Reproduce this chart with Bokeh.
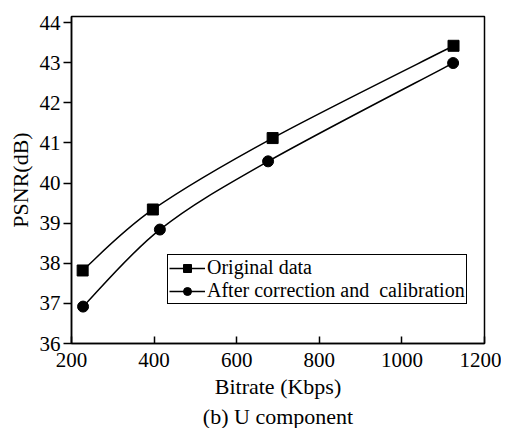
from bokeh.plotting import figure
from bokeh.models import Range1d, Legend, LegendItem, Title, ColumnDataSource
from bokeh.embed import file_html
from bokeh.resources import INLINE

# Data
orig_x = [227, 397, 687, 1125]
orig_y = [37.82, 39.34, 41.12, 43.42]
corr_x = [228, 414, 676, 1124]
corr_y = [36.92, 38.84, 40.54, 42.99]
x_ticks = [200, 400, 600, 800, 1000, 1200]
y_ticks = [36, 37, 38, 39, 40, 41, 42, 43, 44]
FONT = "Liberation Serif"


def smooth_segments(xs, ys):
    """Catmull-Rom style cubic bezier segments through the data points."""
    n = len(xs)
    d = dict(x0=[], y0=[], x1=[], y1=[], cx0=[], cy0=[], cx1=[], cy1=[])
    for i in range(n - 1):
        ip = max(i - 1, 0)
        inn = min(i + 2, n - 1)
        d["x0"].append(xs[i]); d["y0"].append(ys[i])
        d["x1"].append(xs[i + 1]); d["y1"].append(ys[i + 1])
        d["cx0"].append(xs[i] + (xs[i + 1] - xs[ip]) / 6)
        d["cy0"].append(ys[i] + (ys[i + 1] - ys[ip]) / 6)
        d["cx1"].append(xs[i + 1] - (xs[inn] - xs[i]) / 6)
        d["cy1"].append(ys[i + 1] - (ys[inn] - ys[i]) / 6)
    return ColumnDataSource(d)


p = figure(width=501, height=428,
           x_range=Range1d(200, 1200), y_range=Range1d(36, 44.15),
           output_backend="svg", toolbar_location=None,
           min_border_left=71, min_border_top=16, min_border_right=17,
           min_border_bottom=85)

p.xgrid.visible = False
p.ygrid.visible = False
p.outline_line_color = "black"
p.outline_line_width = 1.5
p.outline_line_alpha = 1.0
p.background_fill_color = "white"
p.border_fill_color = "white"

b1 = p.bezier(x0="x0", y0="y0", x1="x1", y1="y1", cx0="cx0", cy0="cy0",
              cx1="cx1", cy1="cy1", source=smooth_segments(orig_x, orig_y),
              line_color="black", line_width=1.5)
s1 = p.scatter(orig_x, orig_y, marker="square", size=11,
               fill_color="black", line_color="black")
b2 = p.bezier(x0="x0", y0="y0", x1="x1", y1="y1", cx0="cx0", cy0="cy0",
              cx1="cx1", cy1="cy1", source=smooth_segments(corr_x, corr_y),
              line_color="black", line_width=1.5)
s2 = p.scatter(corr_x, corr_y, marker="circle", size=11,
               fill_color="black", line_color="black")

p.axis.axis_line_color = "black"
p.axis.axis_line_width = 1.5
p.axis.major_tick_line_color = "black"
p.axis.major_tick_line_width = 1.5
p.axis.minor_tick_line_color = None
p.axis.major_label_text_font = FONT
p.axis.major_label_text_font_size = "21px"
p.axis.major_label_text_color = "black"
p.axis.axis_label_text_font = FONT
p.axis.axis_label_text_font_size = "22px"
p.axis.axis_label_text_font_style = "normal"
p.axis.axis_label_text_color = "black"

p.xaxis.ticker = x_ticks
p.yaxis.ticker = y_ticks
p.xaxis.major_tick_in = 7
p.xaxis.major_tick_out = 0
p.xaxis.major_label_standoff = 9
p.xaxis.axis_label = "Bitrate (Kbps)"
p.xaxis.axis_label_standoff = 4
p.yaxis.major_tick_in = 0
p.yaxis.major_tick_out = 8
p.yaxis.major_label_standoff = 3
p.yaxis.axis_label = "PSNR(dB)"
p.yaxis.axis_label_standoff = 4

sub = Title(text="(b) U component", align="center", text_font=FONT,
            text_font_size="22px", text_font_style="normal",
            text_color="black", standoff=0, offset=0)
p.add_layout(sub, "below")

legend = Legend(items=[
    LegendItem(label="Original data", renderers=[b1, s1]),
    LegendItem(label="After correction and  calibration", renderers=[b2, s2]),
], location=(96, 39))
legend.label_text_font = FONT
legend.label_text_font_size = "20px"
legend.label_text_color = "black"
legend.label_height = 20
legend.glyph_height = 20
legend.glyph_width = 36
legend.label_standoff = 2
legend.spacing = 0
legend.padding = 1
legend.margin = 0
legend.border_line_color = "black"
legend.border_line_width = 1.5
legend.border_line_alpha = 1.0
legend.background_fill_alpha = 1.0
p.add_layout(legend)

open("out.html", "w").write(file_html(p, INLINE))
